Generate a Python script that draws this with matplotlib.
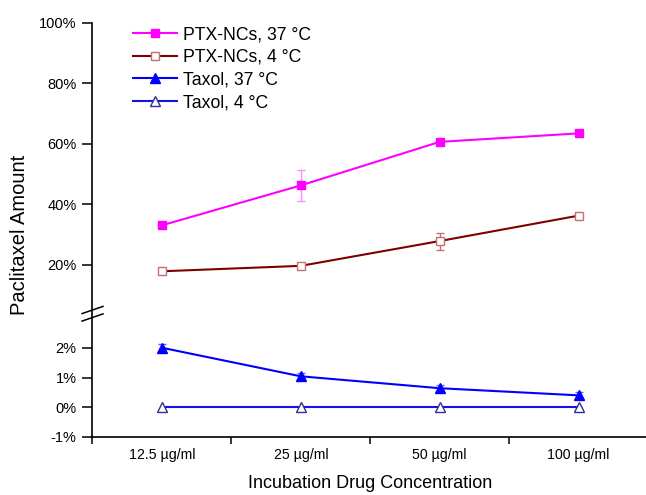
import matplotlib
matplotlib.use("Agg")
import matplotlib.pyplot as plt
from matplotlib.lines import Line2D
import numpy as np

plt.rcParams['font.family'] = ['Liberation Sans', 'DejaVu Sans']

concentrations = ["12.5 µg/ml", "25 µg/ml", "50 µg/ml", "100 µg/ml"]

ptx_37 = [33.0, 46.2, 60.6, 63.4]
ptx_37_err = [0.8, 5.1, 0.6, 0.5]
ptx_4 = [17.8, 19.6, 27.8, 36.2]
ptx_4_err = [0.8, 0.5, 2.8, 0.7]
taxol_37 = [2.0, 1.04, 0.64, 0.40]
taxol_37_err = [0.12, 0.12, 0.12, 0.12]
taxol_4 = [0.0, 0.0, 0.0, 0.0]

top_ticks = [20, 40, 60, 80, 100]
bottom_ticks = [-1, 0, 1, 2]

W, H = 646, 495
fig = plt.figure(figsize=(W / 100, H / 100), dpi=100)

def fx(px):
    return px / W

def fy(py):
    return 1 - py / H

x_left, x_right = 92.5, 648
ax_top = fig.add_axes([fx(x_left), fy(310), fx(x_right - x_left), (310 - 22.7) / H])
ax_bot = fig.add_axes([fx(x_left), fy(437), fx(x_right - x_left), (437 - 318) / H])

x = np.arange(1, len(concentrations) + 1)

styles = [
    dict(color='#FF00FF', marker='s', mfc='#FF00FF', mec='#FF00FF', ms=6),
    dict(color='#800000', marker='s', mfc='white', mec='#C07070', ms=6),
    dict(color='#0000FF', marker='^', mfc='#0000FF', mec='#0000FF', ms=7),
    dict(color='#1414E6', marker='^', mfc='white', mec='#303090', ms=7),
]
labels = ["PTX-NCs, 37 °C", "PTX-NCs, 4 °C", "Taxol, 37 °C", "Taxol, 4 °C"]

# error bars first, lines and markers on top
ax_top.errorbar(x, ptx_37, yerr=ptx_37_err, fmt='none', ecolor='#FF8CFF',
                elinewidth=1, capsize=3, capthick=1, zorder=2)
ax_top.errorbar(x, ptx_4, yerr=ptx_4_err, fmt='none', ecolor='#C07070',
                elinewidth=1, capsize=3, capthick=1, zorder=2)
ax_bot.errorbar(x, taxol_37, yerr=taxol_37_err, fmt='none', ecolor='#6060FF',
                elinewidth=1, capsize=3, capthick=1, zorder=2)

handles = []
for ax, vals, st, lab in [(ax_top, ptx_37, styles[0], labels[0]),
                          (ax_top, ptx_4, styles[1], labels[1]),
                          (ax_bot, taxol_37, styles[2], labels[2]),
                          (ax_bot, taxol_4, styles[3], labels[3])]:
    h, = ax.plot(x, vals, color=st['color'], lw=1.5, marker=st['marker'],
                 markersize=st['ms'], markerfacecolor=st['mfc'],
                 markeredgecolor=st['mec'], markeredgewidth=1.0,
                 label=lab, zorder=3, clip_on=False)
    handles.append(h)

for ax in (ax_top, ax_bot):
    ax.set_xlim(0.5, 4.5)
    ax.spines['top'].set_visible(False)
    ax.spines['right'].set_visible(False)
    ax.spines['left'].set_linewidth(1.2)
    ax.spines['bottom'].set_linewidth(1.2)
    ax.tick_params(axis='y', direction='out', length=7.5, width=1.1,
                   pad=4, labelsize=10.5)

ax_top.set_ylim(5, 100)
ax_top.set_yticks(top_ticks)
ax_top.set_yticklabels([f"{t}%" for t in top_ticks])
ax_top.spines['bottom'].set_visible(False)
ax_top.set_xticks([])

ax_bot.set_ylim(-1, 3)
ax_bot.set_yticks(bottom_ticks)
ax_bot.set_yticklabels([f"{t}%" for t in bottom_ticks])
ax_bot.set_xticks([0.5, 1.5, 2.5, 3.5])
ax_bot.set_xticklabels([])
ax_bot.set_xticks(x, minor=True)
ax_bot.set_xticklabels(concentrations, minor=True)
ax_bot.tick_params(axis='x', which='major', direction='out', length=5, width=1.1)
ax_bot.tick_params(axis='x', which='minor', length=0, pad=8, labelsize=10.2)

ax_bot.set_xlabel("Incubation Drug Concentration", fontsize=13)
ax_bot.xaxis.set_label_coords(0.5, -0.32)

ax_top.set_ylabel("Paclitaxel Amount", fontsize=14.5)
ax_top.yaxis.set_label_coords(fx(29), fy(235), transform=fig.transFigure)

# axis break: connect the two spines and draw the slashes
fig.add_artist(Line2D([fx(x_left), fx(x_left)], [fy(310), fy(318)],
                      color='black', lw=1.2))
for cy in (310, 317.5):
    fig.add_artist(Line2D([fx(82), fx(103)], [fy(cy + 3.6), fy(cy - 3.6)],
                          color='black', lw=1.1))

fig.legend(handles=handles, loc='upper left',
           bbox_to_anchor=(fx(133), fy(26)), frameon=False, fontsize=12.7,
           handlelength=2.5, handletextpad=0.35, labelspacing=0.33,
           borderpad=0, borderaxespad=0)

fig.savefig("out.png", dpi=100)
